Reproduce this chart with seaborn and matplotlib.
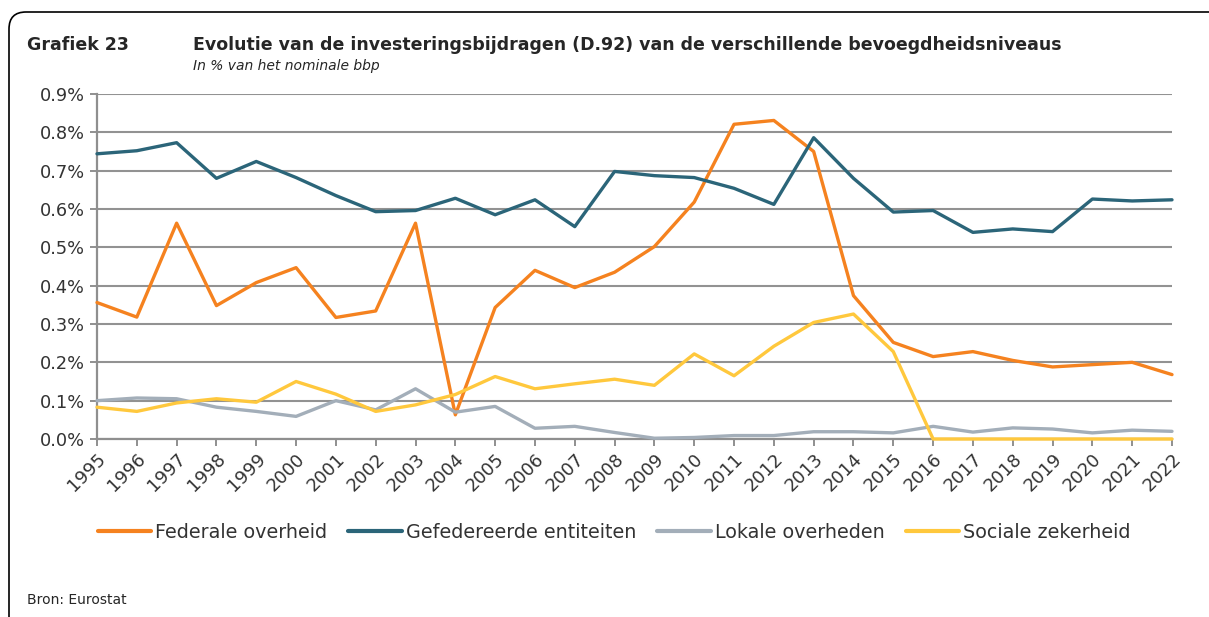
import matplotlib
matplotlib.use("Agg")
import matplotlib.pyplot as plt
from matplotlib.patches import FancyBboxPatch
from matplotlib.ticker import FuncFormatter
import pandas as pd
import seaborn as sns

years = list(range(1995, 2023))

federale = [0.356, 0.318, 0.563, 0.348, 0.408, 0.447, 0.317, 0.334, 0.563, 0.063,
            0.343, 0.440, 0.395, 0.435, 0.502, 0.618, 0.821, 0.831, 0.750, 0.374,
            0.252, 0.215, 0.228, 0.205, 0.188, 0.194, 0.200, 0.168]
gefedereerde = [0.744, 0.752, 0.773, 0.680, 0.724, 0.682, 0.635, 0.593, 0.596, 0.628,
                0.585, 0.624, 0.554, 0.698, 0.687, 0.682, 0.654, 0.612, 0.786, 0.680,
                0.592, 0.596, 0.539, 0.548, 0.541, 0.626, 0.621, 0.624]
lokale = [0.100, 0.107, 0.105, 0.083, 0.072, 0.059, 0.100, 0.076, 0.131, 0.070,
          0.085, 0.028, 0.033, 0.017, 0.002, 0.004, 0.009, 0.009, 0.019, 0.019,
          0.016, 0.033, 0.018, 0.029, 0.026, 0.016, 0.023, 0.020]
sociale = [0.083, 0.072, 0.094, 0.105, 0.096, 0.150, 0.117, 0.072, 0.089, 0.116,
           0.163, 0.131, 0.144, 0.156, 0.140, 0.222, 0.165, 0.242, 0.304, 0.326,
           0.228, 0.0, 0.0, 0.0, 0.0, 0.0, 0.0, 0.0]

series_names = ["Federale overheid", "Gefedereerde entiteiten", "Lokale overheden", "Sociale zekerheid"]
colors = ["#F5821F", "#2B6579", "#A3AEB9", "#FFC83D"]

df = pd.DataFrame({"jaar": years, series_names[0]: federale, series_names[1]: gefedereerde,
                   series_names[2]: lokale, series_names[3]: sociale})
long = df.melt(id_vars="jaar", var_name="reeks", value_name="waarde")

sns.set_style("white")
plt.rcParams["font.family"] = ["DejaVu Sans"]

fig = plt.figure(figsize=(12.09, 6.17), dpi=100)
ax = fig.add_axes([97 / 1209, 1 - 439 / 617, (1172 - 97) / 1209, (439 - 94) / 617])

sns.lineplot(data=long, x="jaar", y="waarde", hue="reeks", hue_order=series_names,
             palette=colors, linewidth=2.4, ax=ax, legend=True)
# lines sit on top of the axis line (social security runs along 0 after 2015)
for line in ax.get_lines():
    line.set_clip_on(False)
    line.set_zorder(3)

ax.set_xlim(1995, 2022)
ax.set_ylim(0, 0.9)
ax.set_yticks([i / 10 for i in range(10)])
ax.yaxis.set_major_formatter(FuncFormatter(lambda v, p: f"{v:.1f}%"))
ax.set_xticks(years)
ax.set_xticklabels([str(y) for y in years], rotation=45, ha="right", rotation_mode="anchor")
ax.set_xlabel("")
ax.set_ylabel("")
ax.grid(axis="y", color="#929292", linewidth=1.5)
ax.set_axisbelow(True)
for s in ["top", "right"]:
    ax.spines[s].set_visible(False)
for s in ["left", "bottom"]:
    ax.spines[s].set_color("#8f8f8f")
    ax.spines[s].set_linewidth(1.6)
ax.tick_params(axis="both", colors="#8f8f8f", labelcolor="#333333", labelsize=12.8,
               length=5, width=1.4, left=True, bottom=True)
ax.tick_params(axis="x", pad=3, labelsize=13)

leg = ax.legend(loc="center", bbox_to_anchor=(0.508, 0.137), bbox_transform=fig.transFigure,
                ncol=4, frameon=False, fontsize=13.8, handlelength=2.8, handletextpad=0.2,
                columnspacing=1.1)
for line in leg.get_lines():
    line.set_linewidth(3)
for t in leg.get_texts():
    t.set_color("#333333")

fig.text(27 / 1209, 1 - 45 / 617, "Grafiek 23", fontsize=12.5, fontweight="bold", va="center")
fig.text(193 / 1209, 1 - 45 / 617,
         "Evolutie van de investeringsbijdragen (D.92) van de verschillende bevoegdheidsniveaus",
         fontsize=12.5, fontweight="bold", va="center")
fig.text(193 / 1209, 1 - 66 / 617, "In % van het nominale bbp", fontsize=10, style="italic", va="center")
fig.text(27 / 1209, 1 - 600 / 617, "Bron: Eurostat", fontsize=10, va="center")

border = FancyBboxPatch((0.09, -1), 13, 6.05 + 1, boxstyle="round,pad=0,rounding_size=0.17",
                        transform=fig.dpi_scale_trans, fill=False, edgecolor="black",
                        linewidth=1.2, clip_on=False)
fig.patches.append(border)

fig.savefig("out.png", dpi=100)
